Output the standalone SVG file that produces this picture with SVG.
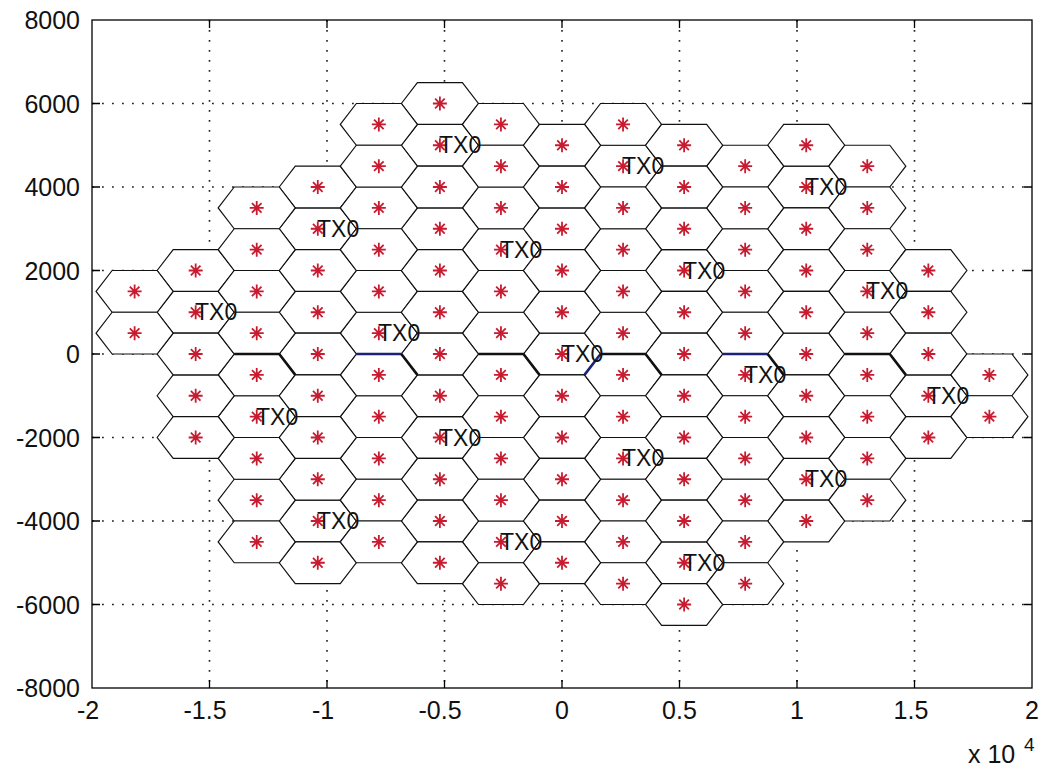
<svg xmlns="http://www.w3.org/2000/svg" xmlns:xlink="http://www.w3.org/1999/xlink" width="1043" height="770" viewBox="0 0 1043 770">
<style>
.ax{stroke:#000;stroke-width:1.3;fill:none}
.grid{stroke:#222;stroke-width:1.6;stroke-dasharray:1.8 8.2;fill:none}
.tl{font-family:"Liberation Sans",Arial,Helvetica,sans-serif;font-size:25px;fill:#111}
.tx{font-family:"Liberation Sans",Arial,Helvetica,sans-serif;font-size:23px;fill:#111}
.hx{fill:#fff;stroke:#111;stroke-width:1.2;stroke-linejoin:miter}
.st{stroke:#c81b30;stroke-width:1.8;fill:none}
.thick{fill:none;stroke-width:2.6;stroke-linejoin:round}
</style>
<defs>
<polygon id="hx" class="hx" points="-38.55,0 -22.5,-20.875 22.5,-20.875 38.55,0 22.5,20.875 -22.5,20.875"/>
<path id="st" class="st" d="M-7,0H7M0,-7V7M-4.8,-4.8L4.8,4.8M-4.8,4.8L4.8,-4.8"/>
</defs>
<rect x="0" y="0" width="1043" height="770" fill="#fff"/>
<g id="grid">
<path class="grid" d="M209.5,20V688M327,20V688M444.5,20V688M562,20V688M679.5,20V688M797,20V688M914.5,20V688"/>
<path class="grid" d="M92,103.5H1032M92,187H1032M92,270.5H1032M92,354H1032M92,437.5H1032M92,521H1032M92,604.5H1032"/>
</g>
<g id="cells">
<g id="cluster-1"><use href="#hx" x="562" y="354"/><use href="#st" x="562" y="354"/><use href="#hx" x="562" y="312.25"/><use href="#st" x="562" y="312.25"/><use href="#hx" x="562" y="395.75"/><use href="#st" x="562" y="395.75"/><use href="#hx" x="623.05" y="333.13"/><use href="#st" x="623.05" y="333.13"/><use href="#hx" x="623.05" y="374.88"/><use href="#st" x="623.05" y="374.88"/><use href="#hx" x="500.95" y="333.13"/><use href="#st" x="500.95" y="333.13"/><use href="#hx" x="500.95" y="374.88"/><use href="#st" x="500.95" y="374.88"/></g>
<g id="cluster-2"><use href="#hx" x="684.11" y="270.5"/><use href="#st" x="684.11" y="270.5"/><use href="#hx" x="684.11" y="228.75"/><use href="#st" x="684.11" y="228.75"/><use href="#hx" x="684.11" y="312.25"/><use href="#st" x="684.11" y="312.25"/><use href="#hx" x="745.16" y="249.63"/><use href="#st" x="745.16" y="249.63"/><use href="#hx" x="745.16" y="291.38"/><use href="#st" x="745.16" y="291.38"/><use href="#hx" x="623.05" y="249.63"/><use href="#st" x="623.05" y="249.63"/><use href="#hx" x="623.05" y="291.38"/><use href="#st" x="623.05" y="291.38"/></g>
<g id="cluster-3"><use href="#hx" x="745.16" y="374.88"/><use href="#st" x="745.16" y="374.88"/><use href="#hx" x="745.16" y="333.13"/><use href="#st" x="745.16" y="333.13"/><use href="#hx" x="745.16" y="416.63"/><use href="#st" x="745.16" y="416.63"/><use href="#hx" x="806.22" y="354"/><use href="#st" x="806.22" y="354"/><use href="#hx" x="806.22" y="395.75"/><use href="#st" x="806.22" y="395.75"/><use href="#hx" x="684.11" y="354"/><use href="#st" x="684.11" y="354"/><use href="#hx" x="684.11" y="395.75"/><use href="#st" x="684.11" y="395.75"/></g>
<g id="cluster-4"><use href="#hx" x="623.05" y="458.38"/><use href="#st" x="623.05" y="458.38"/><use href="#hx" x="623.05" y="416.63"/><use href="#st" x="623.05" y="416.63"/><use href="#hx" x="623.05" y="500.13"/><use href="#st" x="623.05" y="500.13"/><use href="#hx" x="684.11" y="437.5"/><use href="#st" x="684.11" y="437.5"/><use href="#hx" x="684.11" y="479.25"/><use href="#st" x="684.11" y="479.25"/><use href="#hx" x="562" y="437.5"/><use href="#st" x="562" y="437.5"/><use href="#hx" x="562" y="479.25"/><use href="#st" x="562" y="479.25"/></g>
<g id="cluster-5"><use href="#hx" x="439.89" y="437.5"/><use href="#st" x="439.89" y="437.5"/><use href="#hx" x="439.89" y="395.75"/><use href="#st" x="439.89" y="395.75"/><use href="#hx" x="439.89" y="479.25"/><use href="#st" x="439.89" y="479.25"/><use href="#hx" x="500.95" y="416.63"/><use href="#st" x="500.95" y="416.63"/><use href="#hx" x="500.95" y="458.38"/><use href="#st" x="500.95" y="458.38"/><use href="#hx" x="378.84" y="416.63"/><use href="#st" x="378.84" y="416.63"/><use href="#hx" x="378.84" y="458.38"/><use href="#st" x="378.84" y="458.38"/></g>
<g id="cluster-6"><use href="#hx" x="378.84" y="333.13"/><use href="#st" x="378.84" y="333.13"/><use href="#hx" x="378.84" y="291.38"/><use href="#st" x="378.84" y="291.38"/><use href="#hx" x="378.84" y="374.88"/><use href="#st" x="378.84" y="374.88"/><use href="#hx" x="439.89" y="312.25"/><use href="#st" x="439.89" y="312.25"/><use href="#hx" x="439.89" y="354"/><use href="#st" x="439.89" y="354"/><use href="#hx" x="317.78" y="312.25"/><use href="#st" x="317.78" y="312.25"/><use href="#hx" x="317.78" y="354"/><use href="#st" x="317.78" y="354"/></g>
<g id="cluster-7"><use href="#hx" x="500.95" y="249.63"/><use href="#st" x="500.95" y="249.63"/><use href="#hx" x="500.95" y="207.88"/><use href="#st" x="500.95" y="207.88"/><use href="#hx" x="500.95" y="291.38"/><use href="#st" x="500.95" y="291.38"/><use href="#hx" x="562" y="228.75"/><use href="#st" x="562" y="228.75"/><use href="#hx" x="562" y="270.5"/><use href="#st" x="562" y="270.5"/><use href="#hx" x="439.89" y="228.75"/><use href="#st" x="439.89" y="228.75"/><use href="#hx" x="439.89" y="270.5"/><use href="#st" x="439.89" y="270.5"/></g>
<g id="cluster-8"><use href="#hx" x="806.22" y="187"/><use href="#st" x="806.22" y="187"/><use href="#hx" x="806.22" y="145.25"/><use href="#st" x="806.22" y="145.25"/><use href="#hx" x="806.22" y="228.75"/><use href="#st" x="806.22" y="228.75"/><use href="#hx" x="867.27" y="166.13"/><use href="#st" x="867.27" y="166.13"/><use href="#hx" x="867.27" y="207.88"/><use href="#st" x="867.27" y="207.88"/><use href="#hx" x="745.16" y="166.13"/><use href="#st" x="745.16" y="166.13"/><use href="#hx" x="745.16" y="207.88"/><use href="#st" x="745.16" y="207.88"/></g>
<g id="cluster-9"><use href="#hx" x="867.27" y="291.38"/><use href="#st" x="867.27" y="291.38"/><use href="#hx" x="867.27" y="249.63"/><use href="#st" x="867.27" y="249.63"/><use href="#hx" x="867.27" y="333.13"/><use href="#st" x="867.27" y="333.13"/><use href="#hx" x="928.33" y="270.5"/><use href="#st" x="928.33" y="270.5"/><use href="#hx" x="928.33" y="312.25"/><use href="#st" x="928.33" y="312.25"/><use href="#hx" x="806.22" y="270.5"/><use href="#st" x="806.22" y="270.5"/><use href="#hx" x="806.22" y="312.25"/><use href="#st" x="806.22" y="312.25"/></g>
<g id="cluster-10"><use href="#hx" x="928.33" y="395.75"/><use href="#st" x="928.33" y="395.75"/><use href="#hx" x="928.33" y="354"/><use href="#st" x="928.33" y="354"/><use href="#hx" x="928.33" y="437.5"/><use href="#st" x="928.33" y="437.5"/><use href="#hx" x="989.38" y="374.88"/><use href="#st" x="989.38" y="374.88"/><use href="#hx" x="989.38" y="416.63"/><use href="#st" x="989.38" y="416.63"/><use href="#hx" x="867.27" y="374.88"/><use href="#st" x="867.27" y="374.88"/><use href="#hx" x="867.27" y="416.63"/><use href="#st" x="867.27" y="416.63"/></g>
<g id="cluster-11"><use href="#hx" x="806.22" y="479.25"/><use href="#st" x="806.22" y="479.25"/><use href="#hx" x="806.22" y="437.5"/><use href="#st" x="806.22" y="437.5"/><use href="#hx" x="806.22" y="521"/><use href="#st" x="806.22" y="521"/><use href="#hx" x="867.27" y="458.38"/><use href="#st" x="867.27" y="458.38"/><use href="#hx" x="867.27" y="500.13"/><use href="#st" x="867.27" y="500.13"/><use href="#hx" x="745.16" y="458.38"/><use href="#st" x="745.16" y="458.38"/><use href="#hx" x="745.16" y="500.13"/><use href="#st" x="745.16" y="500.13"/></g>
<g id="cluster-12"><use href="#hx" x="684.11" y="562.75"/><use href="#st" x="684.11" y="562.75"/><use href="#hx" x="684.11" y="521"/><use href="#st" x="684.11" y="521"/><use href="#hx" x="684.11" y="604.5"/><use href="#st" x="684.11" y="604.5"/><use href="#hx" x="745.16" y="541.88"/><use href="#st" x="745.16" y="541.88"/><use href="#hx" x="745.16" y="583.63"/><use href="#st" x="745.16" y="583.63"/><use href="#hx" x="623.05" y="541.88"/><use href="#st" x="623.05" y="541.88"/><use href="#hx" x="623.05" y="583.63"/><use href="#st" x="623.05" y="583.63"/></g>
<g id="cluster-13"><use href="#hx" x="500.95" y="541.88"/><use href="#st" x="500.95" y="541.88"/><use href="#hx" x="500.95" y="500.13"/><use href="#st" x="500.95" y="500.13"/><use href="#hx" x="500.95" y="583.63"/><use href="#st" x="500.95" y="583.63"/><use href="#hx" x="562" y="521"/><use href="#st" x="562" y="521"/><use href="#hx" x="562" y="562.75"/><use href="#st" x="562" y="562.75"/><use href="#hx" x="439.89" y="521"/><use href="#st" x="439.89" y="521"/><use href="#hx" x="439.89" y="562.75"/><use href="#st" x="439.89" y="562.75"/></g>
<g id="cluster-14"><use href="#hx" x="317.78" y="521"/><use href="#st" x="317.78" y="521"/><use href="#hx" x="317.78" y="479.25"/><use href="#st" x="317.78" y="479.25"/><use href="#hx" x="317.78" y="562.75"/><use href="#st" x="317.78" y="562.75"/><use href="#hx" x="378.84" y="500.13"/><use href="#st" x="378.84" y="500.13"/><use href="#hx" x="378.84" y="541.88"/><use href="#st" x="378.84" y="541.88"/><use href="#hx" x="256.73" y="500.13"/><use href="#st" x="256.73" y="500.13"/><use href="#hx" x="256.73" y="541.88"/><use href="#st" x="256.73" y="541.88"/></g>
<g id="cluster-15"><use href="#hx" x="256.73" y="416.63"/><use href="#st" x="256.73" y="416.63"/><use href="#hx" x="256.73" y="374.88"/><use href="#st" x="256.73" y="374.88"/><use href="#hx" x="256.73" y="458.38"/><use href="#st" x="256.73" y="458.38"/><use href="#hx" x="317.78" y="395.75"/><use href="#st" x="317.78" y="395.75"/><use href="#hx" x="317.78" y="437.5"/><use href="#st" x="317.78" y="437.5"/><use href="#hx" x="195.67" y="395.75"/><use href="#st" x="195.67" y="395.75"/><use href="#hx" x="195.67" y="437.5"/><use href="#st" x="195.67" y="437.5"/></g>
<g id="cluster-16"><use href="#hx" x="195.67" y="312.25"/><use href="#st" x="195.67" y="312.25"/><use href="#hx" x="195.67" y="270.5"/><use href="#st" x="195.67" y="270.5"/><use href="#hx" x="195.67" y="354"/><use href="#st" x="195.67" y="354"/><use href="#hx" x="256.73" y="291.38"/><use href="#st" x="256.73" y="291.38"/><use href="#hx" x="256.73" y="333.13"/><use href="#st" x="256.73" y="333.13"/><use href="#hx" x="134.62" y="291.38"/><use href="#st" x="134.62" y="291.38"/><use href="#hx" x="134.62" y="333.13"/><use href="#st" x="134.62" y="333.13"/></g>
<g id="cluster-17"><use href="#hx" x="317.78" y="228.75"/><use href="#st" x="317.78" y="228.75"/><use href="#hx" x="317.78" y="187"/><use href="#st" x="317.78" y="187"/><use href="#hx" x="317.78" y="270.5"/><use href="#st" x="317.78" y="270.5"/><use href="#hx" x="378.84" y="207.88"/><use href="#st" x="378.84" y="207.88"/><use href="#hx" x="378.84" y="249.63"/><use href="#st" x="378.84" y="249.63"/><use href="#hx" x="256.73" y="207.88"/><use href="#st" x="256.73" y="207.88"/><use href="#hx" x="256.73" y="249.63"/><use href="#st" x="256.73" y="249.63"/></g>
<g id="cluster-18"><use href="#hx" x="439.89" y="145.25"/><use href="#st" x="439.89" y="145.25"/><use href="#hx" x="439.89" y="103.5"/><use href="#st" x="439.89" y="103.5"/><use href="#hx" x="439.89" y="187"/><use href="#st" x="439.89" y="187"/><use href="#hx" x="500.95" y="124.38"/><use href="#st" x="500.95" y="124.38"/><use href="#hx" x="500.95" y="166.13"/><use href="#st" x="500.95" y="166.13"/><use href="#hx" x="378.84" y="124.38"/><use href="#st" x="378.84" y="124.38"/><use href="#hx" x="378.84" y="166.13"/><use href="#st" x="378.84" y="166.13"/></g>
<g id="cluster-19"><use href="#hx" x="623.05" y="166.13"/><use href="#st" x="623.05" y="166.13"/><use href="#hx" x="623.05" y="124.38"/><use href="#st" x="623.05" y="124.38"/><use href="#hx" x="623.05" y="207.88"/><use href="#st" x="623.05" y="207.88"/><use href="#hx" x="684.11" y="145.25"/><use href="#st" x="684.11" y="145.25"/><use href="#hx" x="684.11" y="187"/><use href="#st" x="684.11" y="187"/><use href="#hx" x="562" y="145.25"/><use href="#st" x="562" y="145.25"/><use href="#hx" x="562" y="187"/><use href="#st" x="562" y="187"/></g>
</g>
<g id="connectors">
<path class="thick" stroke="#111" d="M234.23,354H279.23L295.28,374.88"/>
<path class="thick" stroke="#1a237a" d="M356.34,354H401.34"/>
<path class="thick" stroke="#111" d="M401.34,354L417.39,374.88"/>
<path class="thick" stroke="#111" d="M478.45,354H523.45L539.5,374.88"/>
<path class="thick" stroke="#111" d="M600.55,354H645.55L661.6,374.88"/>
<path class="thick" stroke="#1a237a" d="M584.5,374.88L600.55,354"/>
<path class="thick" stroke="#1a237a" d="M722.66,354H767.66"/>
<path class="thick" stroke="#111" d="M767.66,354L783.71,374.88"/>
<path class="thick" stroke="#111" d="M844.77,354H889.77L905.82,374.88"/>
</g>
<g id="labels" class="tx">
<text x="561" y="362">TX0</text>
<text x="683" y="278.5">TX0</text>
<text x="744" y="382.9">TX0</text>
<text x="622" y="466.4">TX0</text>
<text x="439" y="445.5">TX0</text>
<text x="378" y="341.1">TX0</text>
<text x="500" y="257.6">TX0</text>
<text x="805" y="195">TX0</text>
<text x="866" y="299.4">TX0</text>
<text x="927" y="403.8">TX0</text>
<text x="805" y="487.3">TX0</text>
<text x="683" y="570.8">TX0</text>
<text x="500" y="549.9">TX0</text>
<text x="317" y="529">TX0</text>
<text x="256" y="424.6">TX0</text>
<text x="195" y="320.3">TX0</text>
<text x="317" y="236.8">TX0</text>
<text x="439" y="153.3">TX0</text>
<text x="622" y="174.1">TX0</text>
</g>
<g id="axes">
<rect class="ax" x="92" y="20" width="940" height="668"/>
<path class="ax" d="M209.5,688v-8M327,688v-8M444.5,688v-8M562,688v-8M679.5,688v-8M797,688v-8M914.5,688v-8M209.5,20v8M327,20v8M444.5,20v8M562,20v8M679.5,20v8M797,20v8M914.5,20v8"/>
<path class="ax" d="M92,103.5h8M92,187h8M92,270.5h8M92,354h8M92,437.5h8M92,521h8M92,604.5h8M1032,103.5h-8M1032,187h-8M1032,270.5h-8M1032,354h-8M1032,437.5h-8M1032,521h-8M1032,604.5h-8"/>
<g class="tl" text-anchor="end">
<text x="80" y="29">8000</text>
<text x="80" y="112.5">6000</text>
<text x="80" y="196">4000</text>
<text x="80" y="279.5">2000</text>
<text x="80" y="363">0</text>
<text x="80" y="446.5">-2000</text>
<text x="80" y="530">-4000</text>
<text x="80" y="613.5">-6000</text>
<text x="80" y="697">-8000</text>
</g>
<g class="tl" text-anchor="middle">
<text x="88" y="719">-2</text>
<text x="205" y="719">-1.5</text>
<text x="323" y="719">-1</text>
<text x="440" y="719">-0.5</text>
<text x="562" y="719">0</text>
<text x="679.5" y="719">0.5</text>
<text x="797" y="719">1</text>
<text x="911" y="719">1.5</text>
<text x="1032" y="719">2</text>
</g>
<text class="tl" x="968" y="763">x 10</text>
<text class="tl" x="1024" y="751" style="font-size:19px">4</text>
</g>
</svg>
